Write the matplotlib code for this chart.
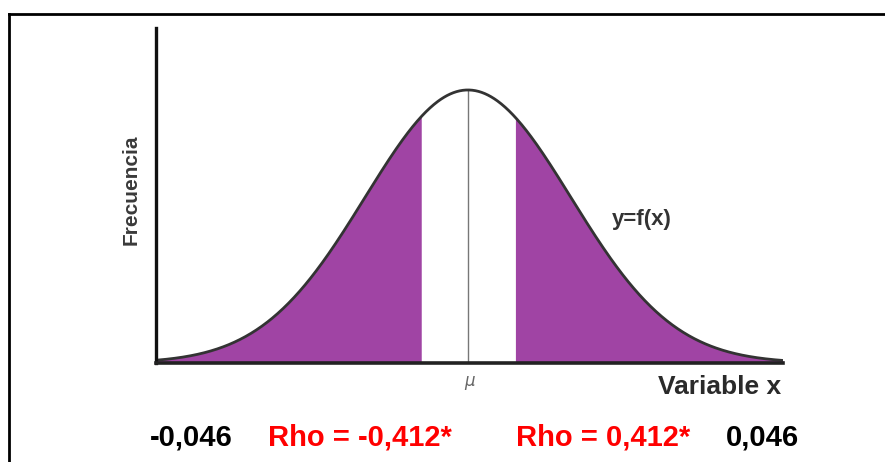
import numpy as np
import matplotlib
matplotlib.use("Agg")
import matplotlib.pyplot as plt
from matplotlib.lines import Line2D

plt.rcParams['font.family'] = ['Liberation Sans', 'DejaVu Sans']

# Parameters (in sigma units)
mu = 0.0
sigma = 1.0
x_min, x_max = -3.03, 3.06
gap_low, gap_high = -0.45, 0.46
y_top = 0.4895

bottom_labels = ["-0,046", "Rho = -0,412*", "Rho = 0,412*", "0,046"]
bottom_colors = ["black", "#ff0000", "#ff0000", "black"]
bottom_xpos = [191, 360, 603, 762]

purple = "#A044A4"

fig = plt.figure(figsize=(8.85, 4.62), dpi=100)
W, H = 885, 462
ax = fig.add_axes([156 / W, 1 - 363 / H, (783 - 156) / W, (363 - 28) / H])

x = np.linspace(x_min, x_max, 800)
pdf = np.exp(-0.5 * ((x - mu) / sigma) ** 2) / (sigma * np.sqrt(2 * np.pi))

ax.fill_between(x, 0, pdf, where=(x <= gap_low), color=purple, lw=0, interpolate=True)
ax.fill_between(x, 0, pdf, where=(x >= gap_high), color=purple, lw=0, interpolate=True)
peak = 1 / (sigma * np.sqrt(2 * np.pi))
ax.plot([mu, mu], [0, peak], color="#777777", lw=1.0)
ax.plot(x, pdf, color="#333333", lw=2.0)

ax.set_xlim(x_min, x_max)
ax.set_ylim(0, y_top)
for s in ["top", "right"]:
    ax.spines[s].set_visible(False)
ax.spines["left"].set_linewidth(2.4)
ax.spines["bottom"].set_linewidth(2.6)
ax.spines["left"].set_color("#111111")
ax.spines["bottom"].set_color("#222222")
ax.set_xticks([])
ax.set_yticks([])

# Labels
fig.text(131 / W, 1 - 190 / H, "Frecuencia", rotation=90, ha="center", va="center",
         fontsize=15, fontweight="bold", color="#3a3a3a")
fig.text(720 / W, 1 - 387 / H, "Variable x", ha="center", va="center",
         fontsize=19, fontweight="bold", color="#2a2a2a")
fig.text(470 / W, 1 - 383 / H, r"$\mu$", ha="center", va="center",
         fontsize=12, color="#666666")
fig.text(642 / W, 1 - 220 / H, "y=f(x)", ha="center", va="center",
         fontsize=16, fontweight="bold", color="#333333")

for lab, col, xp in zip(bottom_labels, bottom_colors, bottom_xpos):
    fig.text(xp / W, 1 - 437 / H, lab, ha="center", va="center",
             fontsize=21, fontweight="bold", color=col)

# Border
fig.add_artist(Line2D([8.5 / W, 1.0], [1 - 14 / H, 1 - 14 / H], color="black", lw=2.0,
                      transform=fig.transFigure))
fig.add_artist(Line2D([8.5 / W, 8.5 / W], [0, 1 - 14 / H], color="black", lw=2.0,
                      transform=fig.transFigure))

fig.savefig("out.png", dpi=100)
